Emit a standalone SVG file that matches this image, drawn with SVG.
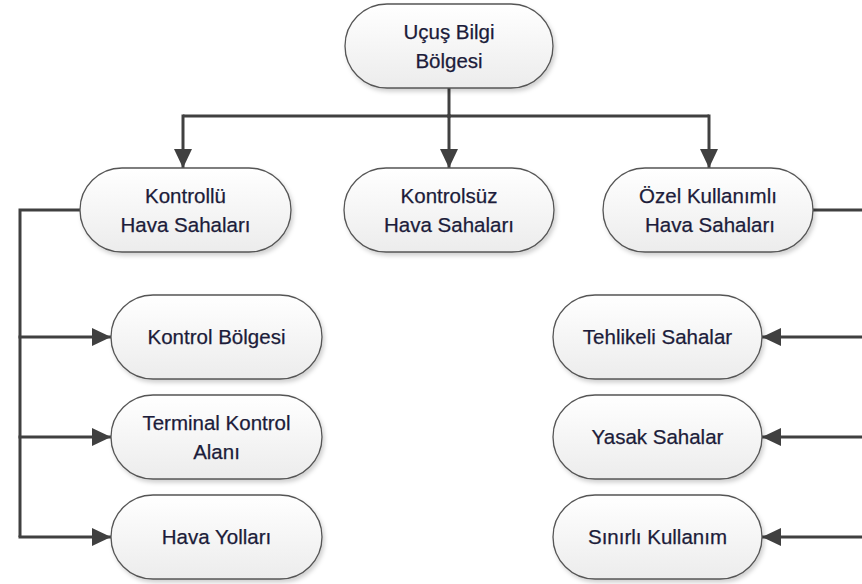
<svg xmlns="http://www.w3.org/2000/svg" width="862" height="584" viewBox="0 0 862 584">
  <defs>
    <linearGradient id="fillGrad" x1="0" y1="0" x2="0" y2="1">
      <stop offset="0" stop-color="#ffffff"/>
      <stop offset="1" stop-color="#ececec"/>
    </linearGradient>
    <filter id="shadow" x="-10%" y="-10%" width="125%" height="130%">
      <feDropShadow dx="2" dy="3" stdDeviation="2" flood-color="#000000" flood-opacity="0.18"/>
    </filter>
    <marker id="arrow" markerUnits="userSpaceOnUse" markerWidth="19" markerHeight="18" refX="19" refY="9" orient="auto">
      <path d="M0,0 L19,9 L0,18 Z" fill="#404040"/>
    </marker>
  </defs>
  <style>
    .node rect { fill: url(#fillGrad); stroke: #555555; stroke-width: 1.3; filter: url(#shadow); }
    .node text { font-family: "Liberation Sans", Arial, sans-serif; font-size: 20.5px; fill: #1c1c3a; stroke: #1c1c3a; stroke-width: 0.25; text-anchor: middle; }
    .conn path { fill: none; stroke: #404040; stroke-width: 3; }
    .conn .arr { marker-end: url(#arrow); }
  </style>

  <g id="connectors" class="conn">
    <path d="M449,88 V118"/>
    <path d="M183,116 H709"/>
    <path class="arr" d="M449,114 V168"/>
    <path class="arr" d="M183,114.5 V168"/>
    <path class="arr" d="M709,114.5 V168"/>
    <path d="M80,210 H20 V537"/>
    <path class="arr" d="M18.5,337 H111"/>
    <path class="arr" d="M18.5,437 H111"/>
    <path class="arr" d="M18.5,537 H111"/>
    <path d="M812,210 H870"/>
    <path class="arr" d="M870,337 H762"/>
    <path class="arr" d="M870,437 H762"/>
    <path class="arr" d="M870,537 H762"/>
  </g>

  <g id="ucus-bilgi-bolgesi" class="node">
    <rect x="345" y="4" width="208" height="84" rx="42" ry="42"/>
    <text x="449" y="39">Uçuş Bilgi</text>
    <text x="449" y="68">Bölgesi</text>
  </g>

  <g id="kontrollu" class="node">
    <rect x="80" y="168" width="211" height="84" rx="42" ry="42"/>
    <text x="185.5" y="203">Kontrollü</text>
    <text x="185.5" y="232">Hava Sahaları</text>
  </g>

  <g id="kontrolsuz" class="node">
    <rect x="344" y="168" width="210" height="84" rx="42" ry="42"/>
    <text x="449" y="203">Kontrolsüz</text>
    <text x="449" y="232">Hava Sahaları</text>
  </g>

  <g id="ozel-kullanimli" class="node">
    <rect x="603" y="168" width="210" height="84" rx="42" ry="42"/>
    <text x="708" y="203">Özel Kullanımlı</text>
    <text x="710" y="232">Hava Sahaları</text>
  </g>

  <g id="kontrol-bolgesi" class="node">
    <rect x="111" y="295" width="211" height="84" rx="42" ry="42"/>
    <text x="216.5" y="344">Kontrol Bölgesi</text>
  </g>

  <g id="terminal-kontrol-alani" class="node">
    <rect x="111" y="395" width="211" height="84" rx="42" ry="42"/>
    <text x="216.5" y="430">Terminal Kontrol</text>
    <text x="216.5" y="459">Alanı</text>
  </g>

  <g id="hava-yollari" class="node">
    <rect x="111" y="495" width="211" height="84" rx="42" ry="42"/>
    <text x="216.5" y="544">Hava Yolları</text>
  </g>

  <g id="tehlikeli-sahalar" class="node">
    <rect x="553" y="295" width="209" height="84" rx="42" ry="42"/>
    <text x="657.5" y="344">Tehlikeli Sahalar</text>
  </g>

  <g id="yasak-sahalar" class="node">
    <rect x="553" y="395" width="209" height="84" rx="42" ry="42"/>
    <text x="657.5" y="444">Yasak Sahalar</text>
  </g>

  <g id="sinirli-kullanim" class="node">
    <rect x="553" y="495" width="209" height="84" rx="42" ry="42"/>
    <text x="657.5" y="544">Sınırlı Kullanım</text>
  </g>
</svg>
